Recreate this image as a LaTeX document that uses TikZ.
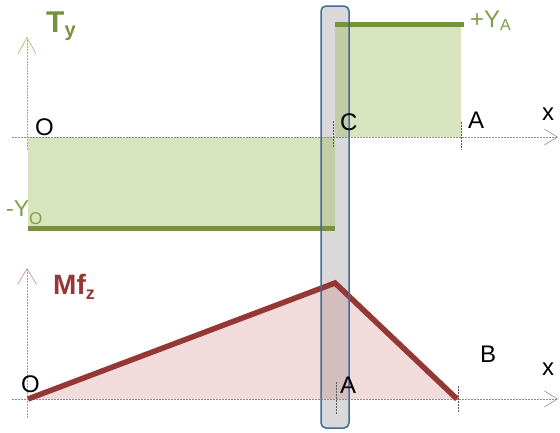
\documentclass[tikz,border=0pt]{standalone}
\usepackage{fontspec}
\setmainfont{Liberation Sans}
\usetikzlibrary{arrows.meta}
\definecolor{olive}{HTML}{76923C}
\definecolor{oliveL}{HTML}{9BBB59}
\definecolor{oliveT}{HTML}{7F9F47}
\definecolor{wine}{HTML}{953735}
\definecolor{rose}{HTML}{C0504D}
\definecolor{barfill}{HTML}{D9D9D9}
\definecolor{barline}{HTML}{41699A}
\tikzset{
  lbl/.style={inner sep=0pt, anchor=base west, font=\fontsize{24}{24}\selectfont},
  axis/.style={dash pattern=on 2pt off 1pt, line width=0.6pt, draw=black!45,
     -{Straight Barb[length=13pt,width=16pt,line width=0.6pt]}},
  vaxisG/.style={dash pattern=on 2pt off 1pt, line width=0.6pt, draw=oliveL,
     -{Straight Barb[length=16pt,width=18pt,line width=0.6pt]}},
  vaxisR/.style={dash pattern=on 2pt off 1pt, line width=0.6pt, draw=rose!70,
     -{Straight Barb[length=16pt,width=19pt,line width=0.6pt]}},
  tick/.style={dash pattern=on 2pt off 1pt, line width=0.7pt, draw=black!65},
  thickG/.style={line width=5pt, draw=olive},
  thickR/.style={line width=5.5pt, draw=wine, line join=miter},
}
\begin{document}
\begin{tikzpicture}[x=1pt,y=-1pt]
\useasboundingbox (0,0) rectangle (560,432);
% gray bar fill
\fill[barfill, rounded corners=5pt] (321,6) rectangle (349,428);
% shear diagram fills
\fill[oliveL, opacity=0.4] (28,137) rectangle (335,228);
\fill[oliveL, opacity=0.4] (335,25) rectangle (461,137);
% moment diagram fill
\coordinate (mO) at (28,399);
\coordinate (mP) at (335,283);
\coordinate (mE) at (457,399);
\fill[rose, opacity=0.2] (mO) -- (mP) -- (mE) -- cycle;
% axes
\coordinate (tx0) at (12,137); \coordinate (tx1) at (558,137);
\coordinate (ty0) at (27,150); \coordinate (ty1) at (27,37);
\coordinate (bx0) at (12,399); \coordinate (bx1) at (558,399);
\coordinate (by0) at (27,418); \coordinate (by1) at (27,268);
\draw[axis] (tx0) -- (tx1);
\draw[axis] (bx0) -- (bx1);
\draw[vaxisG] (ty0) -- (ty1);
\draw[vaxisR] (by0) -- (by1);
% ticks
\draw[tick] (333,121) -- (333,147);
\draw[tick] (461,122) -- (461,150);
\draw[tick] (336,382) -- (336,414);
\draw[tick] (458,386) -- (458,413);
% thick lines
\draw[thickG] (28,228) -- (335,228);
\draw[thickG] (335,24.5) -- (464,24.5);
\draw[thickR] (mO) -- (mP) -- (mE);
% bar outline
\draw[barline, line width=1.5pt, rounded corners=5pt] (321,6) rectangle (349,428);
% labels
\node[lbl, text=olive, font=\fontsize{30}{30}\selectfont\bfseries] (Ty) at (46,32)
  {T\raisebox{-4pt}{\fontsize{20}{20}\selectfont y}};
\node[lbl] (Otop) at (35,135) {O};
\node[lbl] (Ctop) at (340,130) {C};
\node[lbl] (Atop) at (468,128) {A};
\node[lbl] (xtop) at (542,120) {x};
\node[lbl, text=oliveT, font=\fontsize{24}{24}\selectfont] (YA) at (470,27)
  {+Y\raisebox{-3pt}{\fontsize{16}{16}\selectfont A}};
\node[lbl, text=oliveT, font=\fontsize{23}{23}\selectfont] (YO) at (6,216)
  {-Y\raisebox{-8pt}{\fontsize{17}{17}\selectfont O}};
\node[lbl, text=wine, font=\fontsize{28}{28}\selectfont\bfseries] (Mf) at (53,294)
  {Mf\raisebox{-5pt}{\fontsize{18}{18}\selectfont z}};
\node[lbl] (Obot) at (21,392) {O};
\node[lbl] (Abot) at (340,393) {A};
\node[lbl] (Bbot) at (480,362) {B};
\node[lbl] (xbot) at (542,375) {x};
\end{tikzpicture}
\end{document}
